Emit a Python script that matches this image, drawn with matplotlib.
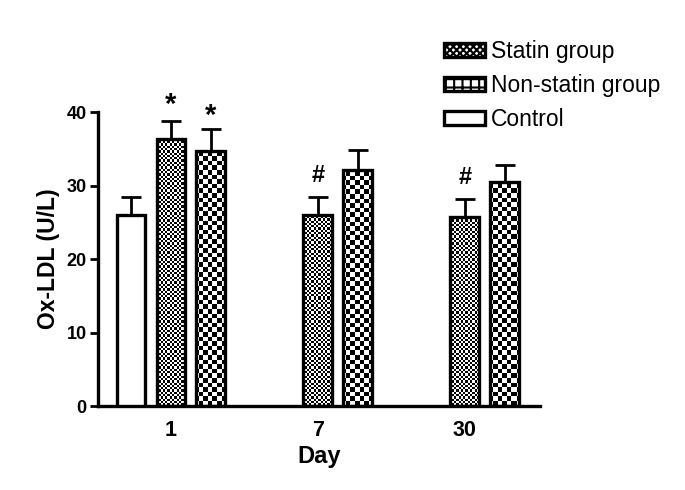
import numpy as np
import matplotlib
matplotlib.use('Agg')
import matplotlib.pyplot as plt
from matplotlib.patches import Patch

plt.rcParams['font.family'] = ['Liberation Sans', 'DejaVu Sans']
plt.rcParams['hatch.linewidth'] = 1.5

days = ['1', '7', '30']
statin = [36.3, 26.0, 25.7]
statin_err = [2.5, 2.4, 2.5]
nonstatin = [34.7, 32.1, 30.5]
nonstatin_err = [3.0, 2.7, 2.3]
control = [26.0]          # only measured on day 1
control_err = [2.4]
statin_marks = ['*', '#', '#']
nonstatin_marks = ['*', '', '']

fig = plt.figure(figsize=(6.85, 4.9), dpi=100)
ax = fig.add_axes([0.143, 0.1714, 0.645, 0.60])

x = np.arange(len(days))
step = 0.272
width = 0.197
ax.set_xlim(-0.497, 2.51)
ax.set_ylim(0, 40)


def checker_bars(xs, vals, cell):
    bars = ax.bar(xs, vals, width, facecolor='none', edgecolor='black',
                  linewidth=2.4, zorder=3)
    fig.canvas.draw()
    bb = ax.get_window_extent()
    w, h = int(round(bb.width)), int(round(bb.height))
    jj, ii = np.meshgrid(np.arange(w), np.arange(h))
    board = ((jj // cell + ii // cell) % 2).astype(float)
    for b in bars:
        im = ax.imshow(board, cmap='gray', extent=(*ax.get_xlim(), *ax.get_ylim()),
                       aspect='auto', interpolation='nearest', zorder=2,
                       origin='lower')
        im.set_clip_path(b)
    ax.set_xlim(-0.497, 2.51)
    ax.set_ylim(0, 40)
    return bars


ax.bar(x[:1] - step, control, width, facecolor='white', edgecolor='black',
       linewidth=2.4, zorder=3)
checker_bars(x, statin, 2.3)
checker_bars(x + step, nonstatin, 4.6)

err_kw = dict(fmt='none', ecolor='black', elinewidth=2, capsize=7, capthick=2, zorder=1)
ax.errorbar(x[:1] - step, control, yerr=[[0], control_err], **err_kw)
ax.errorbar(x, statin, yerr=[np.zeros(3), statin_err], **err_kw)
ax.errorbar(x + step, nonstatin, yerr=[np.zeros(3), nonstatin_err], **err_kw)

for i in range(3):
    if statin_marks[i] == '*':
        ax.text(x[i], statin[i] + statin_err[i] + 2.2, '*', ha='center', va='center',
                fontsize=21, fontweight='bold')
    elif statin_marks[i]:
        ax.text(x[i], statin[i] + statin_err[i] + 2.9, statin_marks[i],
                ha='center', va='center', fontsize=17, fontweight='bold')
    if nonstatin_marks[i]:
        ax.text(x[i] + step, nonstatin[i] + nonstatin_err[i] + 1.8, nonstatin_marks[i],
                ha='center', va='center', fontsize=21, fontweight='bold')

ax.set_xticks(x)
ax.set_xticklabels(days, fontsize=15.5, fontweight='bold')
ax.set_yticks([0, 10, 20, 30, 40])
ax.set_yticklabels(['0', '10', '20', '30', '40'], fontsize=13, fontweight='bold')
ax.tick_params(axis='x', length=0, pad=10)
ax.tick_params(axis='y', length=6, width=2, pad=2)
ax.set_xlabel('Day', fontsize=17, fontweight='bold', labelpad=3)
ax.set_ylabel('Ox-LDL (U/L)', fontsize=16.5, fontweight='bold', labelpad=5)
for s in ['top', 'right']:
    ax.spines[s].set_visible(False)
for s in ['left', 'bottom']:
    ax.spines[s].set_linewidth(2.4)

handles = [Patch(facecolor='white', edgecolor='black', hatch='xxxxx', linewidth=2.4),
           Patch(facecolor='white', edgecolor='black', hatch='++', linewidth=2.4),
           Patch(facecolor='white', edgecolor='black', linewidth=2.4)]
fig.legend(handles, ['Statin group', 'Non-statin group', 'Control'],
           loc='upper left', bbox_to_anchor=(0.631, 0.942), frameon=False,
           fontsize=16.5, handlelength=1.8, handleheight=0.55, handletextpad=0.25,
           labelspacing=0.48, borderpad=0)

fig.savefig('out.png', dpi=100)
